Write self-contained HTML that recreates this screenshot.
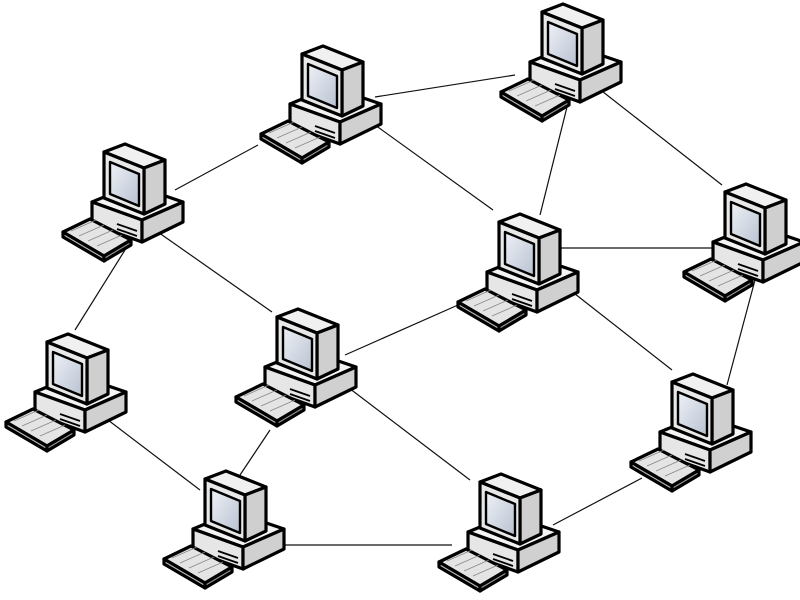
<!DOCTYPE html>
<html><head><style>html,body{margin:0;padding:0;background:#fff}svg{display:block}</style></head>
<body>
<svg width="800" height="600" viewBox="0 0 800 600" xmlns="http://www.w3.org/2000/svg">
<defs>
<linearGradient id="scr" x1="0" y1="0" x2="1" y2="1"><stop offset="0" stop-color="#eef1f6"/><stop offset="1" stop-color="#b9c2d2"/></linearGradient>
<g id="pc" stroke="#000" stroke-width="3.2" stroke-linejoin="round">
  <polygon points="35,62 76,45 126,62 85,80" fill="#f4f4f4"/>
  <polygon points="35,62 85,80 85,102 35,84" fill="#e6e6e6"/>
  <polygon points="85,80 126,62 126,82 85,102" fill="#d0d0d0"/>
  <line x1="60" y1="84" x2="80" y2="91" stroke-width="1.8"/>
  <line x1="60" y1="89" x2="80" y2="96" stroke-width="1.8"/>
  <polygon points="47,12 68,4 108,20 87,28" fill="#f0f0f0"/>
  <polygon points="87,28 108,20 108,64 87,74" fill="#cfcfcf"/>
  <polygon points="47,12 87,28 87,74 47,58" fill="#e8e8e8"/>
  <polygon points="53,22 82,34 82,66 53,54" fill="url(#scr)" stroke-width="2.4"/>
  <polygon points="6,92 33,79 74,100 47,116" fill="#e4e4e4"/>
  <polygon points="6,92 47,116 47,121 6,97" fill="#bbb"/>
  <polygon points="47,116 74,100 74,105 47,121" fill="#999"/>
  <g stroke="#888" stroke-width="0.8" fill="none">
    <line x1="14" y1="91" x2="39" y2="80"/><line x1="22" y1="96" x2="47" y2="85"/><line x1="31" y1="101" x2="56" y2="90"/><line x1="40" y1="106" x2="65" y2="95"/>
  </g>
</g>
</defs>
<g stroke="#111" stroke-width="1.2">
<line x1="375" y1="97" x2="515" y2="75"/>
<line x1="375" y1="125" x2="493" y2="210"/>
<line x1="175" y1="190" x2="258" y2="145"/>
<line x1="570" y1="95" x2="540" y2="215"/>
<line x1="598" y1="88" x2="722" y2="185"/>
<line x1="558" y1="248" x2="712" y2="248"/>
<line x1="155" y1="230" x2="272" y2="312"/>
<line x1="125" y1="250" x2="75" y2="330"/>
<line x1="345" y1="355" x2="458" y2="305"/>
<line x1="570" y1="290" x2="672" y2="370"/>
<line x1="755" y1="280" x2="727" y2="385"/>
<line x1="345" y1="385" x2="470" y2="480"/>
<line x1="270" y1="430" x2="240" y2="475"/>
<line x1="108" y1="420" x2="200" y2="490"/>
<line x1="278" y1="545" x2="452" y2="545"/>
<line x1="553" y1="525" x2="642" y2="478"/>
</g>
<use href="#pc" x="255" y="42"/>
<use href="#pc" x="495" y="0"/>
<use href="#pc" x="57" y="140"/>
<use href="#pc" x="678" y="180"/>
<use href="#pc" x="452" y="210"/>
<use href="#pc" x="230" y="305"/>
<use href="#pc" x="0" y="330"/>
<use href="#pc" x="625" y="370"/>
<use href="#pc" x="158" y="467"/>
<use href="#pc" x="433" y="470"/>
</svg>
</body></html>
